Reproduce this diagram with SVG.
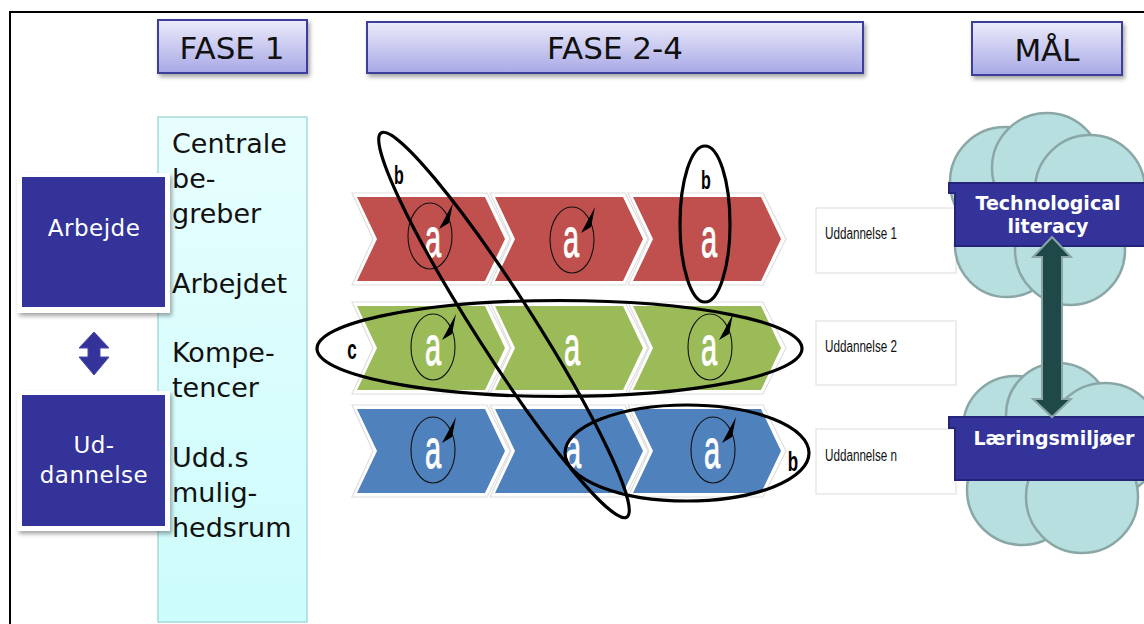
<svg xmlns="http://www.w3.org/2000/svg" width="1144" height="624" viewBox="0 0 1144 624">
  <defs>
    <linearGradient id="hdrGrad" x1="0" y1="0" x2="0" y2="1">
      <stop offset="0" stop-color="#ebebfb"/>
      <stop offset="1" stop-color="#a8a8e6"/>
    </linearGradient>
    <linearGradient id="colGrad" x1="0" y1="0" x2="0" y2="1">
      <stop offset="0" stop-color="#e8fefe"/>
      <stop offset="1" stop-color="#ccfcfc"/>
    </linearGradient>
    <filter id="shadow" x="-10%" y="-10%" width="125%" height="130%">
      <feDropShadow dx="2" dy="3" stdDeviation="2" flood-color="#000" flood-opacity="0.35"/>
    </filter>
    <!-- chevron step shape and its light outer rim -->
    <polygon id="chevRim" points="-5,-4 130,-4 153,42 130,88 -5,88 16,42"/>
    <polygon id="chev" points="0,0 128,0 148,42 128,84 0,84 20,42"/>
    <!-- small rotation needle on the cycle rings -->
    <path id="spin" d="M23,-33 L9,-7 L19,-13 Z"/>
    <style>
      .hdr { fill: url(#hdrGrad); stroke: #3c3c9c; stroke-width: 2; filter: url(#shadow); }
      .hdrTxt { font-family: "DejaVu Sans", Verdana, sans-serif; font-size: 31px; fill: #111; text-anchor: middle; }
      .colTxt { font-family: "DejaVu Sans", Verdana, sans-serif; font-size: 27px; fill: #111; }
      .frame { fill: #fff; filter: url(#shadow); }
      .navy { fill: #333399; }
      .navyTxt { font-family: "DejaVu Sans", Verdana, sans-serif; font-size: 23px; fill: #fff; text-anchor: middle; letter-spacing: 0.5px; }
      .rim { fill: #fff; stroke: #dedede; stroke-width: 1.2; }
      .aTxt { font-family: "Liberation Sans", Arial, sans-serif; font-size: 29px; fill: #fff; stroke: #fff; stroke-width: 0.5; text-anchor: middle; }
      .ring { fill: none; stroke: #111; stroke-width: 1.1; }
      .big { fill: none; stroke: #000; stroke-width: 3.2; }
      .lbl { font-family: "Liberation Sans", Arial, sans-serif; font-size: 20px; font-weight: bold; fill: #000; text-anchor: middle; }
      .udBox { fill: #fff; stroke: #e2e2e2; stroke-width: 1.2; }
      .udTxt { font-family: "Liberation Sans", Arial, sans-serif; font-size: 16px; fill: #111; }
      .cloud { fill: #b8dfe0; stroke: #8aa7a6; stroke-width: 2.5; }
      .band { fill: #333399; stroke: #242478; stroke-width: 2; }
      .bandTxt { font-family: "DejaVu Sans", Verdana, sans-serif; font-size: 19px; font-weight: bold; fill: #fff; text-anchor: middle; }
    </style>
  </defs>

  <rect x="0" y="0" width="1144" height="624" fill="#fff"/>
  <!-- slide frame -->
  <path d="M10,624 V12 H1144" fill="none" stroke="#000" stroke-width="2"/>

  <!-- phase headers -->
  <g id="fase1">
    <rect class="hdr" x="158" y="20" width="149" height="53"/>
    <text class="hdrTxt" x="232" y="59">FASE 1</text>
  </g>
  <g id="fase2-4">
    <rect class="hdr" x="367" y="22" width="496" height="51"/>
    <text class="hdrTxt" x="615" y="59">FASE 2-4</text>
  </g>
  <g id="maal">
    <rect class="hdr" x="972" y="22" width="150" height="53"/>
    <text class="hdrTxt" x="1047" y="61">MÅL</text>
  </g>

  <!-- phase 1 column -->
  <g id="fase1-column">
    <rect x="158" y="117" width="149" height="505" fill="url(#colGrad)" stroke="#a6dada" stroke-width="1.5"/>
    <text class="colTxt" x="172" y="153">Centrale</text>
    <text class="colTxt" x="172" y="188">be-</text>
    <text class="colTxt" x="172" y="223">greber</text>
    <text class="colTxt" x="172" y="293">Arbejdet</text>
    <text class="colTxt" x="172" y="362">Kompe-</text>
    <text class="colTxt" x="172" y="397">tencer</text>
    <text class="colTxt" x="172" y="467">Udd.s</text>
    <text class="colTxt" x="172" y="502">mulig-</text>
    <text class="colTxt" x="172" y="537">hedsrum</text>
  </g>

  <g id="arbejde">
    <rect class="frame" x="17" y="173" width="153" height="140"/>
    <rect class="navy" x="22" y="177" width="143" height="130"/>
    <text class="navyTxt" x="94" y="236">Arbejde</text>
  </g>
  <g id="uddannelse">
    <rect class="frame" x="17" y="391" width="153" height="140"/>
    <rect class="navy" x="22" y="395" width="143" height="131"/>
    <text class="navyTxt" x="94" y="453">Ud-</text>
    <text class="navyTxt" x="94" y="483">dannelse</text>
  </g>

  <!-- chevron rows -->
  <g id="row-red">
    <use href="#chevRim" class="rim" x="357" y="197"/>
    <use href="#chev" fill="#c0504d" x="357" y="197"/>
    <use href="#chevRim" class="rim" x="495" y="197"/>
    <use href="#chev" fill="#c0504d" x="495" y="197"/>
    <use href="#chevRim" class="rim" x="633" y="197"/>
    <use href="#chev" fill="#c0504d" x="633" y="197"/>
    <text class="aTxt" transform="translate(433,257) scale(1,1.9)">a</text>
    <text class="aTxt" transform="translate(571,257) scale(1,1.9)">a</text>
    <text class="aTxt" transform="translate(709,257) scale(1,1.9)">a</text>
    <ellipse class="ring" cx="430" cy="236" rx="22" ry="33"/>
    <use href="#spin" x="430" y="236"/>
    <ellipse class="ring" cx="572" cy="240" rx="22" ry="33"/>
    <use href="#spin" x="572" y="240"/>
  </g>
  <g id="row-green">
    <use href="#chevRim" class="rim" x="357" y="306"/>
    <use href="#chev" fill="#9bbb59" x="357" y="306"/>
    <use href="#chevRim" class="rim" x="495" y="306"/>
    <use href="#chev" fill="#9bbb59" x="495" y="306"/>
    <use href="#chevRim" class="rim" x="633" y="306"/>
    <use href="#chev" fill="#9bbb59" x="633" y="306"/>
    <text class="aTxt" transform="translate(433,365) scale(1,1.9)">a</text>
    <text class="aTxt" transform="translate(572,365) scale(1,1.9)">a</text>
    <text class="aTxt" transform="translate(709,365) scale(1,1.9)">a</text>
    <ellipse class="ring" cx="433" cy="347" rx="22" ry="33"/>
    <use href="#spin" x="433" y="347"/>
    <ellipse class="ring" cx="710" cy="347" rx="22" ry="33"/>
    <use href="#spin" x="710" y="347"/>
  </g>
  <g id="row-blue">
    <use href="#chevRim" class="rim" x="357" y="409"/>
    <use href="#chev" fill="#4f81bd" x="357" y="409"/>
    <use href="#chevRim" class="rim" x="495" y="409"/>
    <use href="#chev" fill="#4f81bd" x="495" y="409"/>
    <use href="#chevRim" class="rim" x="633" y="409"/>
    <use href="#chev" fill="#4f81bd" x="633" y="409"/>
    <text class="aTxt" transform="translate(433,468) scale(1,1.9)">a</text>
    <text class="aTxt" transform="translate(573,468) scale(1,1.9)">a</text>
    <text class="aTxt" transform="translate(712,468) scale(1,1.9)">a</text>
    <ellipse class="ring" cx="433" cy="450" rx="22" ry="33"/>
    <use href="#spin" x="433" y="450"/>
    <ellipse class="ring" cx="713" cy="450" rx="22" ry="33"/>
    <use href="#spin" x="713" y="450"/>
  </g>

  <!-- grouping loops -->
  <g id="loops">
    <ellipse class="big" cx="504" cy="325" rx="228" ry="29" transform="rotate(57.4 504 325)"/>
    <ellipse class="big" cx="705" cy="224" rx="25" ry="78"/>
    <ellipse class="big" cx="559.5" cy="348.5" rx="242.5" ry="48"/>
    <ellipse class="big" cx="687" cy="453" rx="122" ry="48"/>
    <text class="lbl" transform="translate(399,184) scale(0.8,1.25)">b</text>
    <text class="lbl" transform="translate(706,189) scale(0.8,1.25)">b</text>
    <text class="lbl" transform="translate(352,359) scale(0.85,1.35)">c</text>
    <text class="lbl" transform="translate(793,471) scale(0.85,1.35)">b</text>
  </g>

  <!-- education tracks -->
  <g id="uddannelse-1">
    <rect class="udBox" x="816" y="208" width="140" height="65"/>
    <text class="udTxt" x="825" y="239" textLength="72" lengthAdjust="spacingAndGlyphs">Uddannelse 1</text>
  </g>
  <g id="uddannelse-2">
    <rect class="udBox" x="816" y="321" width="140" height="64"/>
    <text class="udTxt" x="825" y="352" textLength="72" lengthAdjust="spacingAndGlyphs">Uddannelse 2</text>
  </g>
  <g id="uddannelse-n">
    <rect class="udBox" x="816" y="429" width="140" height="65"/>
    <text class="udTxt" x="825" y="461" textLength="72" lengthAdjust="spacingAndGlyphs">Uddannelse n</text>
  </g>

  <!-- goal clouds -->
  <g id="technological-literacy">
    <circle class="cloud" cx="1007" cy="245" r="52"/>
    <circle class="cloud" cx="1070" cy="250" r="55"/>
    <circle class="cloud" cx="1005" cy="182" r="55"/>
    <circle class="cloud" cx="1047" cy="168" r="55"/>
    <circle class="cloud" cx="1090" cy="190" r="55"/>
    <polygon class="band" points="949,183 1146,183 1146,246 955,246 955,193 949,193"/>
    <text class="bandTxt" x="1048" y="210">Technological</text>
    <text class="bandTxt" x="1048" y="233">literacy</text>
  </g>
  <g id="laeringsmiljoeer">
    <circle class="cloud" cx="1015" cy="428" r="52"/>
    <circle class="cloud" cx="1058" cy="415" r="52"/>
    <circle class="cloud" cx="1105" cy="440" r="57"/>
    <circle class="cloud" cx="1022" cy="490" r="55"/>
    <circle class="cloud" cx="1082" cy="497" r="56"/>
    <polygon class="band" points="949,417 1146,417 1146,480 955,480 955,428 949,428"/>
    <text class="bandTxt" x="1054" y="445">Læringsmiljøer</text>
  </g>

  <!-- connectors -->
  <g id="connectors">
    <polygon points="94,332 109,348 100,348 100,357 109,357 94,375 79,357 88,357 88,348 79,348" fill="#333399" stroke="#4b4bb0" stroke-width="1"/>
    <polygon points="1052,237 1071,257 1062,257 1062,399 1071,399 1052,417 1033,399 1042,399 1042,257 1033,257" fill="#1f4848" stroke="#8aa7a6" stroke-width="2"/>
  </g>
</svg>
